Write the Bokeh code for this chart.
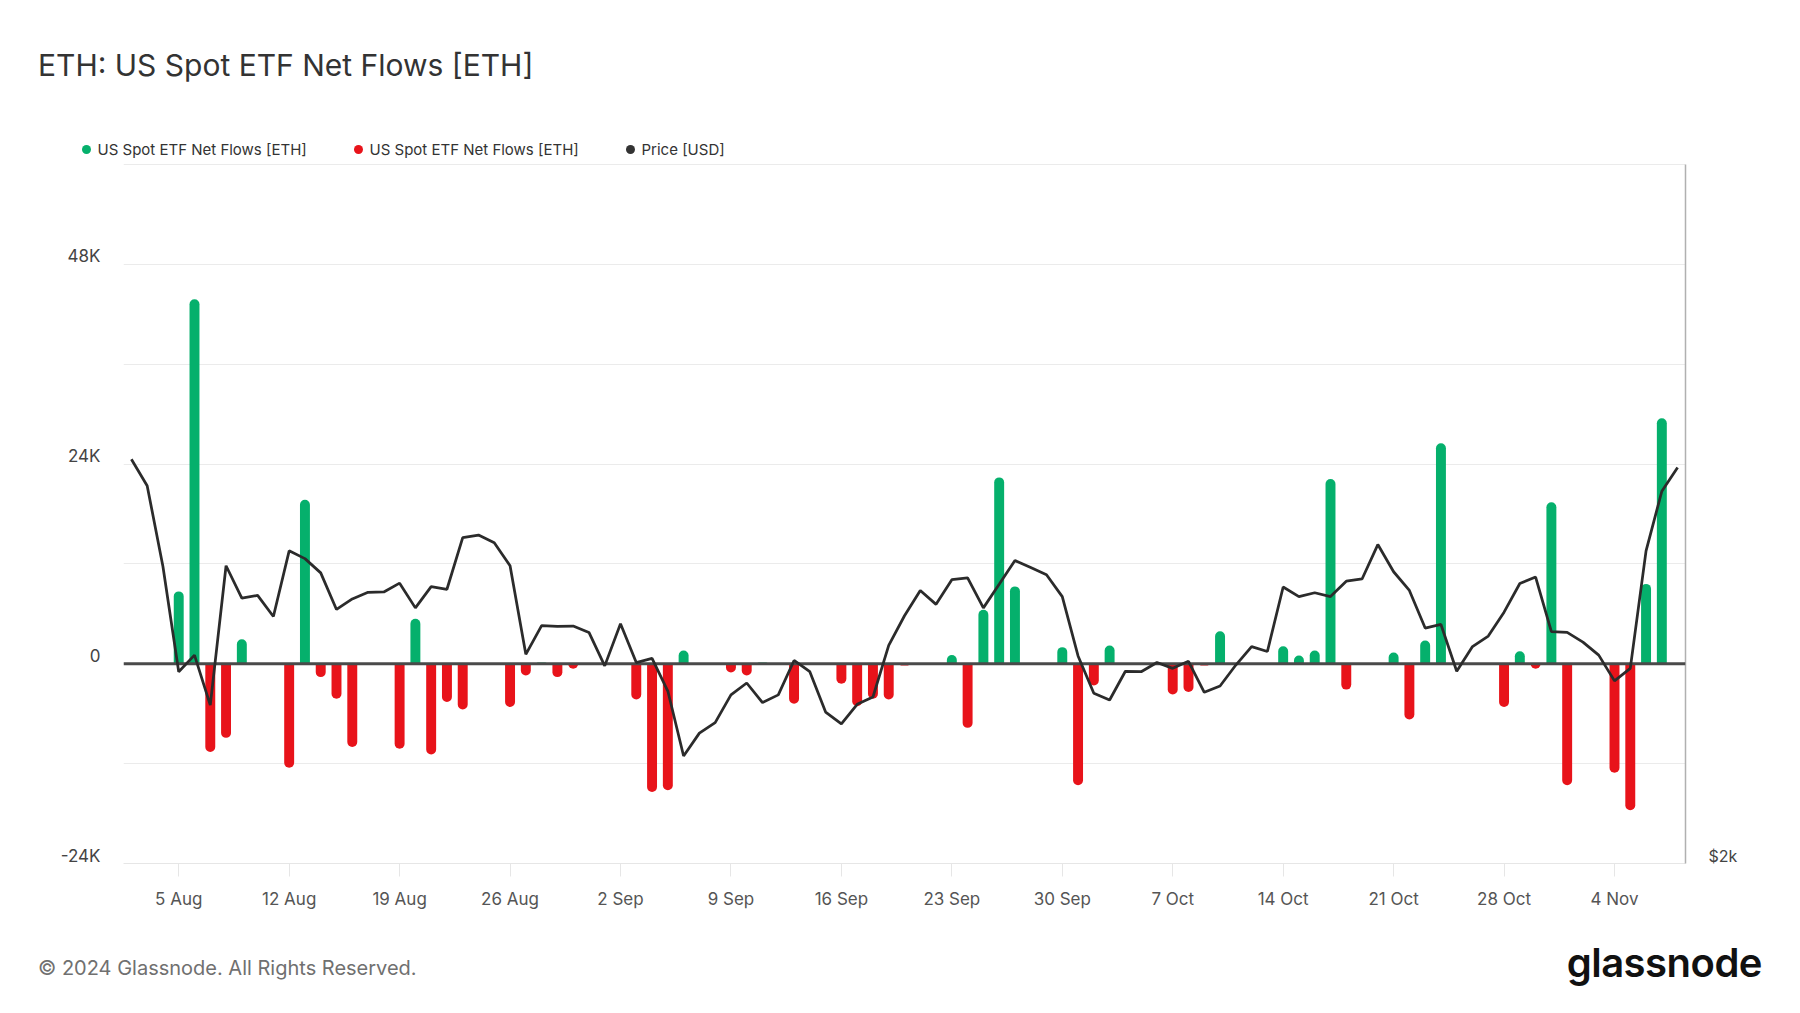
import pandas as pd
from bokeh.plotting import figure
from bokeh.layouts import column
from bokeh.models import (Range1d, LogScale, LogAxis, FixedTicker, Span, Div,
                          ColumnDataSource)
from bokeh.embed import file_html
from bokeh.resources import INLINE

# ---------------- data ----------------
flow_dates = [
    "2024-08-05", "2024-08-06", "2024-08-07", "2024-08-08", "2024-08-09",
    "2024-08-12", "2024-08-13", "2024-08-14", "2024-08-15", "2024-08-16",
    "2024-08-19", "2024-08-20", "2024-08-21", "2024-08-22", "2024-08-23",
    "2024-08-26", "2024-08-27", "2024-08-28", "2024-08-29", "2024-08-30",
    "2024-09-03", "2024-09-04", "2024-09-05", "2024-09-06",
    "2024-09-09", "2024-09-10", "2024-09-11", "2024-09-13",
    "2024-09-16", "2024-09-17", "2024-09-18", "2024-09-19", "2024-09-20",
    "2024-09-23", "2024-09-24", "2024-09-25", "2024-09-26", "2024-09-27",
    "2024-09-30", "2024-10-01", "2024-10-02", "2024-10-03",
    "2024-10-07", "2024-10-08", "2024-10-09", "2024-10-10",
    "2024-10-14", "2024-10-15", "2024-10-16", "2024-10-17", "2024-10-18",
    "2024-10-21", "2024-10-22", "2024-10-23", "2024-10-24",
    "2024-10-28", "2024-10-29", "2024-10-30", "2024-10-31", "2024-11-01",
    "2024-11-04", "2024-11-05", "2024-11-06", "2024-11-07",
]
flows = [
    8700, 43800, -10600, -8900, 2950,
    -12500, 19700, -1600, -4200, -10000,
    -10200, 5400, -10900, -4600, -5500,
    -5200, -1400, 150, -1600, -600,
    -4300, -15400, -15200, 1600,
    -1050, -1400, 150, -4800,
    -2400, -5100, -4200, -4300, -200,
    1050, -7700, 6500, 22400, 9300,
    2000, -14600, -2600, 2200,
    -3700, -3400, -200, 3900,
    2100, 1000, 1600, 22200, -3100,
    1350, -6700, 2800, 26500,
    -5200, 1500, -600, 19400, -14600,
    -13100, -17600, 9600, 29500,
]

price_start = "2024-08-02"
prices = [
    2986, 2909, 2685, 2419, 2459, 2340, 2687, 2602, 2609, 2555,
    2727, 2706, 2668, 2573, 2600, 2617, 2618, 2641, 2577, 2632,
    2625, 2763, 2770, 2749, 2687, 2461, 2532, 2530, 2531, 2515,
    2433, 2537, 2441, 2451, 2373, 2225, 2276, 2300, 2364, 2392,
    2346, 2364, 2446, 2419, 2324, 2297, 2342, 2359, 2483, 2557,
    2622, 2586, 2650, 2655, 2577, 2638, 2701, 2682, 2663, 2606,
    2457, 2368, 2352, 2420, 2419, 2441, 2427, 2444, 2370, 2385,
    2435, 2480, 2468, 2631, 2606, 2616, 2606, 2646, 2652, 2744,
    2671, 2622, 2526, 2535, 2420, 2480, 2506, 2566, 2640, 2657,
    2517, 2515, 2491, 2459, 2397, 2427, 2727, 2893, 2962,
]

x_tick_dates = ["2024-08-05", "2024-08-12", "2024-08-19", "2024-08-26",
                "2024-09-02", "2024-09-09", "2024-09-16", "2024-09-23",
                "2024-09-30", "2024-10-07", "2024-10-14", "2024-10-21",
                "2024-10-28", "2024-11-04"]
x_tick_labels = ["5 Aug", "12 Aug", "19 Aug", "26 Aug", "2 Sep", "9 Sep",
                 "16 Sep", "23 Sep", "30 Sep", "7 Oct", "14 Oct", "21 Oct",
                 "28 Oct", "4 Nov"]
y_grid_ticks = [-24000, -12000, 0, 12000, 24000, 36000, 48000, 60000]
y_label_values = [-24000, 0, 24000, 48000]
y_label_texts = ["-24K", "0", "24K", "48K"]
price_label_values = [2000]
price_label_texts = ["$2k"]

series_labels = ["US Spot ETF Net Flows [ETH]", "US Spot ETF Net Flows [ETH]", "Price [USD]"]
title_text = "ETH: US Spot ETF Net Flows [ETH]"
copyright_text = "© 2024 Glassnode. All Rights Reserved."
brand_text = "glassnode"

GREEN = "#05b06c"
RED = "#e8131a"
DARK = "#2b2b2b"
FONT = "Inter"
series_colors = [GREEN, RED, "#333333"]

# ---------------- geometry (page pixels) ----------------
W = 1800
HEAD_H = 160           # title + legend strip
FOOT_TOP = 930         # footer strip starts here
FOOT_H = 1013 - FOOT_TOP
FL, FR = 123, 1685     # frame left / right
GRID_TOP, FB = 164, 863  # 60K grid line and -24K bottom
FT = GRID_TOP - 1        # frame top one pixel above the top grid line
Y0, Y1 = -24000, 60000
P0, P1 = 2000, 4000
LABEL_LIFT_PX = 8

px_per_unit = (FB - GRID_TOP) / (Y1 - Y0)
y_top = Y1 + (GRID_TOP - FT) / px_per_unit
p_top = P1 * (P1 / P0) ** ((GRID_TOP - FT) / (FB - GRID_TOP))

# ---------------- header: title + legend ----------------
legend_html = ""
for i, (lab, col) in enumerate(zip(series_labels, series_colors)):
    left = 81.5 + 272 * i
    legend_html += (
        f'<span style="position:absolute; left:{left}px; top:144.5px; width:9px; height:9px; '
        f'border-radius:50%; background:{col};"></span>'
        f'<span style="position:absolute; left:{left + 16}px; top:141.5px; font-size:15px; '
        f'line-height:15px; color:#333333; white-space:nowrap;">{lab}</span>'
    )
head = Div(text=(f'<div style="position:relative; width:{W}px; height:{HEAD_H}px; '
                 f'font-family:{FONT};">'
                 f'<span style="position:absolute; left:38px; top:50px; font-size:30px; '
                 f'line-height:30px; color:#333333; white-space:nowrap;">{title_text}</span>'
                 f'{legend_html}</div>'),
           width=W, height=HEAD_H, margin=0)

# ---------------- main chart ----------------
fd = pd.to_datetime(flow_dates)
pos = [(d, v) for d, v in zip(fd, flows) if v > 0]
neg = [(d, v) for d, v in zip(fd, flows) if v < 0]
pos_src = ColumnDataSource(dict(x=[d for d, _ in pos], top=[v for _, v in pos],
                                bottom=[0] * len(pos)))
neg_src = ColumnDataSource(dict(x=[d for d, _ in neg], top=[0] * len(neg),
                                bottom=[v for _, v in neg]))
price_dates = pd.date_range(price_start, periods=len(prices), freq="D")
price_src = ColumnDataSource(dict(x=price_dates, y=prices))

MAIN_H = FOOT_TOP - HEAD_H
p = figure(width=W, height=MAIN_H, x_axis_type="datetime",
           x_range=Range1d(pd.Timestamp("2024-08-01 12:00"), pd.Timestamp("2024-11-08 12:00")),
           y_range=Range1d(Y0, y_top), title=None,
           output_backend="svg", toolbar_location=None,
           min_border_left=FL, min_border_right=W - FR,
           min_border_top=FT - HEAD_H, min_border_bottom=FOOT_TOP - FB)
p.outline_line_color = None

p.extra_y_ranges = {"price": Range1d(P0, p_top)}
p.extra_y_scales = {"price": LogScale()}

bar_w = 0.63 * 86400000
p.vbar(x="x", top="top", bottom="bottom", width=bar_w, source=pos_src,
       fill_color=GREEN, line_color=None, border_radius=(5, 5, 0, 0))
p.vbar(x="x", top="top", bottom="bottom", width=bar_w, source=neg_src,
       fill_color=RED, line_color=None, border_radius=(0, 0, 5, 5))

p.add_layout(Span(location=0, dimension="width", line_color="#4a4a4a", line_width=3))

p.line(x="x", y="y", source=price_src, y_range_name="price",
       line_color=DARK, line_width=2.75, level="overlay")

p.xgrid.visible = False
p.ygrid.ticker = FixedTicker(ticks=y_grid_ticks)
p.ygrid.grid_line_color = "#ebebeb"
p.ygrid.grid_line_width = 1

# left axis: labels sit a little above their grid lines
lift = LABEL_LIFT_PX / px_per_unit
yl_ticks = [v + lift for v in y_label_values]
ya = p.yaxis[0]
ya.ticker = FixedTicker(ticks=yl_ticks)
ya.major_label_overrides = dict(zip(yl_ticks, y_label_texts))
ya.axis_line_color = None
ya.major_tick_line_color = None
ya.minor_tick_line_color = None
ya.major_tick_in = 0
ya.major_tick_out = 0
ya.major_label_standoff = 23
ya.major_label_text_font = FONT
ya.major_label_text_font_size = "17px"
ya.major_label_text_color = "#444444"

# right axis (price, log scale)
plift = (P1 / P0) ** (LABEL_LIFT_PX / (FB - GRID_TOP))
pl_ticks = [v * plift for v in price_label_values]
rax = LogAxis(y_range_name="price", ticker=FixedTicker(ticks=pl_ticks),
              major_label_overrides=dict(zip(pl_ticks, price_label_texts)),
              axis_line_color="#b0b0b0", axis_line_width=1.5, bounds=(P0, P1),
              major_tick_line_color=None, minor_tick_line_color=None,
              major_tick_in=0, major_tick_out=0, major_label_standoff=23,
              major_label_text_font=FONT, major_label_text_font_size="16px",
              major_label_text_color="#444444")
p.add_layout(rax, "right")

# x axis
tick_ms = [int(pd.Timestamp(d).value // 10**6) for d in x_tick_dates]
xa = p.xaxis[0]
xa.ticker = FixedTicker(ticks=tick_ms)
xa.major_label_overrides = dict(zip(tick_ms, x_tick_labels))
xa.axis_line_color = "#e6e6e6"
xa.axis_line_width = 1
xa.major_tick_line_color = "#e6e6e6"
xa.major_tick_in = 0
xa.major_tick_out = 13
xa.minor_tick_line_color = None
xa.major_label_standoff = 12
xa.major_label_text_font = FONT
xa.major_label_text_font_size = "17px"
xa.major_label_text_color = "#555555"

# ---------------- footer ----------------
foot = Div(text=(f'<div style="position:relative; width:{W}px; height:{FOOT_H}px; '
                 f'font-family:{FONT};">'
                 f'<span style="position:absolute; left:38px; top:28px; font-size:20px; '
                 f'line-height:20px; color:#707070; white-space:nowrap;">{copyright_text}</span>'
                 f'<span style="position:absolute; right:38px; top:13px; font-size:40px; '
                 f'line-height:40px; font-weight:600; color:#111111; letter-spacing:-0.5px; '
                 f'white-space:nowrap;">{brand_text}</span></div>'),
           width=W, height=FOOT_H, margin=0)

layout = column(head, p, foot, spacing=0)
open("out.html", "w").write(file_html(layout, INLINE))
